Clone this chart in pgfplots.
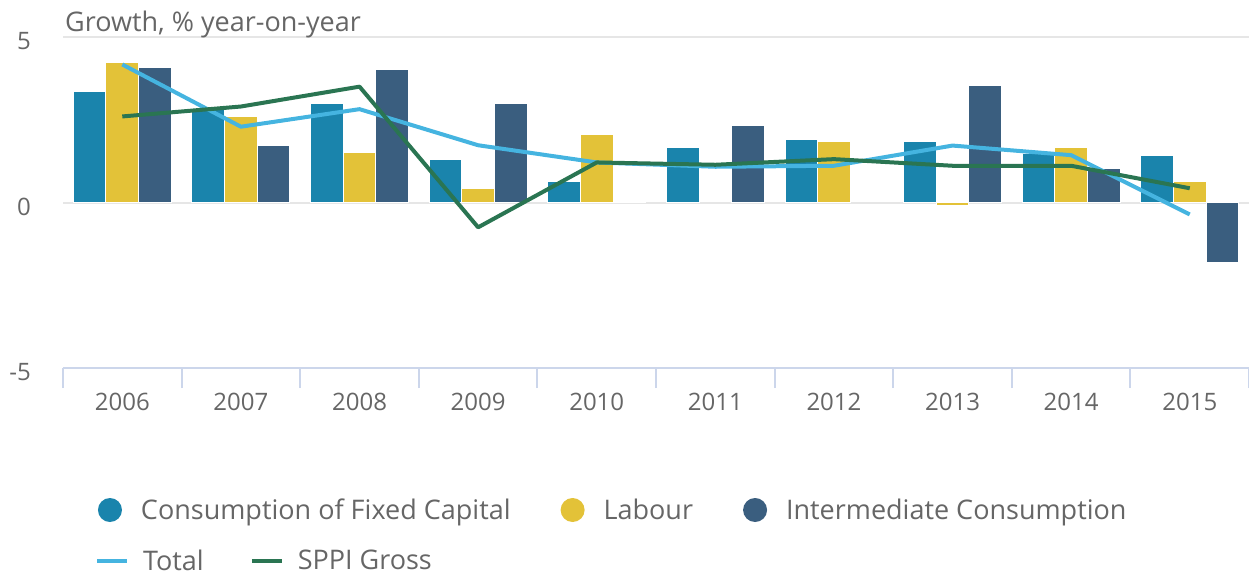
\documentclass[border=0pt]{standalone}
\usepackage{fontspec}
\setmainfont{Open Sans}
\usepackage{pgfplots}
\pgfplotsset{compat=1.18}

\definecolor{cfc}{HTML}{1A84AC}
\definecolor{labour}{HTML}{E3C238}
\definecolor{interm}{HTML}{3A5E7F}
\definecolor{total}{HTML}{45B4E0}
\definecolor{sppi}{HTML}{2A7552}
\definecolor{txt}{HTML}{666666}
\definecolor{axiscol}{HTML}{CCD6EB}
\definecolor{gridcol}{HTML}{E6E6E6}

\begin{document}
\begin{tikzpicture}
\useasboundingbox (-63pt,-208pt) rectangle (1186pt,368pt);
\begin{axis}[
  at={(0pt,0pt)}, anchor=south west,
  width=1186pt, height=331pt, scale only axis,
  xmin=-0.5, xmax=9.5, ymin=-5, ymax=5,
  axis x line*=bottom, axis y line*=left,
  x axis line style={-, draw=axiscol, line width=2pt},
  y axis line style={draw=none},
  tick align=inside,
  major tick length=0pt,
  xtick={0,...,9},
  xticklabels={2006,2007,2008,2009,2010,2011,2012,2013,2014,2015},
  extra x ticks={-0.5,0.5,...,9.5},
  extra x tick labels={},
  extra x tick style={major tick length=20pt, tick align=outside,
    tick style={draw=axiscol, line width=2pt}, grid=none},
  ytick={-5,0,5},
  ymajorgrids, grid style={draw=gridcol, line width=2pt},
  ticklabel style={text=txt, font=\fontsize{24}{28}\selectfont},
  /pgf/number format/assume math mode=true,
  xticklabel style={anchor=base, yshift=-42pt},
  yticklabel style={anchor=east, inner sep=0pt, xshift=-32pt, yshift=-4pt},
  legend columns=3,
  legend style={at={(axis description cs:0.0295,-0.429)}, anchor=west,
    draw=none, fill=none, inner sep=0pt, outer sep=0pt,
    nodes={inner sep=0pt}, text=txt, font=\fontsize{27}{32}\selectfont,
    /tikz/every even column/.append style={column sep=50pt}},
  clip=false,
]
\addplot[ybar, bar width=0.275, bar shift=-0.275, fill=cfc, draw=white, line width=1pt,
  legend image code/.code={\fill[cfc, draw=none] (12pt,0pt) circle (12pt); \path[draw=none, fill=none] (0pt,0pt) -- (43pt,0pt);}]
  coordinates {(0,3.34) (1,2.80) (2,3.00) (3,1.30) (4,0.63) (5,1.65) (6,1.91) (7,1.85) (8,1.48) (9,1.43)};
\addlegendentry{Consumption of Fixed Capital}
\addplot[ybar, bar width=0.275, bar shift=0, fill=labour, draw=white, line width=1pt,
  legend image code/.code={\fill[labour, draw=none] (12pt,0pt) circle (12pt); \path[draw=none, fill=none] (0pt,0pt) -- (43pt,0pt);}]
  coordinates {(0,4.22) (1,2.60) (2,1.50) (3,0.43) (4,2.05) (6,1.85) (7,-0.08) (8,1.65) (9,0.63)};
\addlegendentry{Labour}
\addplot[ybar, bar width=0.275, bar shift=0.275, fill=interm, draw=white, line width=1pt,
  legend image code/.code={\fill[interm, draw=none] (12pt,0pt) circle (12pt); \path[draw=none, fill=none] (0pt,0pt) -- (43pt,0pt);}]
  coordinates {(0,4.08) (1,1.71) (2,4.01) (3,3.00) (4,0.03) (5,2.32) (7,3.54) (8,1.03) (9,-1.81)};
\addlegendentry{Intermediate Consumption}
% lines
\addplot[color=total, line width=4pt, line join=round, forget plot]
  coordinates {(0,4.17) (1,2.29) (2,2.82) (3,1.73) (4,1.21) (5,1.08) (6,1.11) (7,1.72) (8,1.43) (9,-0.36)};
\addplot[color=sppi, line width=4pt, line join=round, forget plot]
  coordinates {(0,2.60) (1,2.90) (2,3.50) (3,-0.75) (4,1.21) (5,1.14) (6,1.31) (7,1.11) (8,1.11) (9,0.43)};
\node[anchor=base west, inner sep=0pt, text=txt, font=\fontsize{27}{32}\selectfont]
  at (rel axis cs:0,1) [xshift=2pt, yshift=6pt] {Growth, \% year-on-year};
\end{axis}
\begin{axis}[
  at={(0pt,0pt)}, anchor=south west,
  width=1186pt, height=331pt, scale only axis,
  xmin=-0.5, xmax=9.5, ymin=-5, ymax=5, hide axis,
  legend columns=2,
  legend image code/.code={\draw[#1] (0pt,0pt) -- (30pt,0pt); \path[draw=none] (30pt,0pt) -- (46pt,0pt);},
  legend style={at={(axis description cs:0.027,-0.582)}, anchor=west,
    draw=none, fill=none, inner sep=0pt, outer sep=0pt,
    nodes={inner sep=0pt}, text=txt, font=\fontsize{27}{32}\selectfont,
    /tikz/every even column/.append style={column sep=46pt}},
]
\addlegendimage{color=total, line width=4pt}
\addlegendentry{Total}
\addlegendimage{color=sppi, line width=4pt}
\addlegendentry{SPPI Gross}
\end{axis}
\end{tikzpicture}
\end{document}
